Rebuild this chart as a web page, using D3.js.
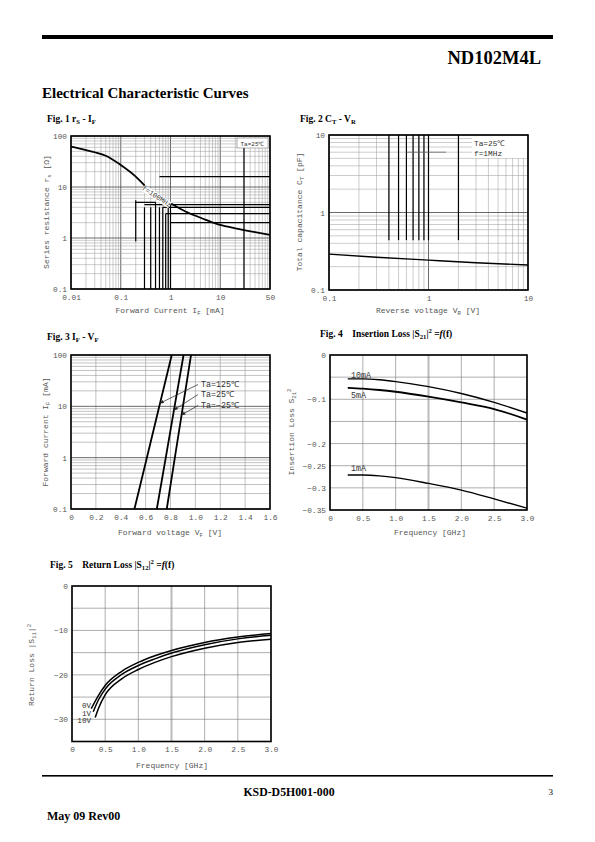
<!DOCTYPE html>
<html><head><meta charset="utf-8">
<script src="https://cdn.jsdelivr.net/npm/d3@7"></script>
<style>body{margin:0;background:#fff}svg{display:block}text{white-space:pre}</style>
</head><body>
<svg id="page" width="595" height="842"></svg>
<script>
// ---------------- DATA ----------------
// Fig 1  rs - IF
const fig1Current = [0.01,0.02,0.03,0.05,0.1,0.2,0.3,0.5,1,2,5,10,20,50,100];
const fig1Rs      = [62,53,48,41,27,16,10.8,7.2,4.8,3.3,2.3,1.8,1.55,1.3,1.15];
const fig1XTicks  = [0.01,0.1,1,10,100];
const fig1XLabels = ["0.01","0.1","1","10","50"];
const fig1YTicks  = [0.1,1,10,100];
const fig1YLabels = ["0.1","1","10","100"];
// darker (over-printed) grid segments seen on the scan: [gridValue, from, to]
const fig1DarkV   = [[0.2,5.5,0.85],[0.3,4,0.1],[0.4,4,0.1],[0.5,5,0.1],[0.6,4,0.1],[0.7,4,0.1],[0.8,3,0.1],[0.9,4,0.1],[1,4.5,0.1],[30,60,0.1]];
const fig1DarkH   = [[16,0.6,100],[5,0.2,0.5],[4.5,0.3,100],[4,0.7,100],[3,0.8,100],[2,1,100]];
// Fig 2  CT - VR
const fig2Voltage = [0.1,0.3,1,3,10];
const fig2Ct      = [0.29,0.265,0.243,0.225,0.21];
const fig2XTicks  = [0.1,1,10];
const fig2XLabels = ["0.1","1","10"];
const fig2YTicks  = [0.1,1,10];
const fig2YLabels = ["0.1","1","10"];
const fig2DarkV   = [[0.4,10,0.44],[0.5,10,0.44],[0.6,10,0.44],[0.7,10,0.44],[0.8,10,0.44],[0.9,10,0.44],[1,10,0.44],[2,10,0.44]];
const fig2DarkH   = [[6,0.6,1.5]];
// Fig 3  IF - VF
const fig3Current = [0.1,1,10,100];
const fig3Vf125   = [0.51,0.61,0.71,0.81];
const fig3Vf25    = [0.69,0.762,0.833,0.905];
const fig3VfM25   = [0.77,0.835,0.90,0.965];
const fig3Series  = ["Ta=125℃","Ta=25℃","Ta=−25℃"];
const fig3ArrowAt = [11.5,8.5,6.8];   // current (mA) where each label arrow points
const fig3XTicks  = [0,0.2,0.4,0.6,0.8,1.0,1.2,1.4,1.6];
const fig3XLabels = ["0","0.2","0.4","0.6","0.8","1.0","1.2","1.4","1.6"];
const fig3YTicks  = [0.1,1,10,100];
const fig3YLabels = ["0.1","1","10","100"];
// Fig 4  Insertion loss
const fig4Freq    = [0.27,0.5,0.75,1.0,1.5,2.0,2.5,3.0];
const fig4Il10    = [-0.054,-0.054,-0.056,-0.060,-0.0715,-0.087,-0.107,-0.131];
const fig4Il5     = [-0.074,-0.076,-0.079,-0.083,-0.094,-0.107,-0.122,-0.146];
const fig4Il1     = [-0.271,-0.271,-0.273,-0.277,-0.290,-0.305,-0.325,-0.346];
const fig4Series  = ["10mA","5mA","1mA"];
const fig4XTicks  = [0,0.5,1.0,1.5,2.0,2.5,3.0];
const fig4XLabels = ["0","0.5","1.0","1.5","2.0","2.5","3.0"];
const fig4YTicks  = [0,-0.1,-0.2,-0.25,-0.3,-0.35];
const fig4YLabels = ["0","−0.1","−0.2","−0.25","−0.3","−0.35"];
const fig4YGrid   = [0,-0.05,-0.1,-0.15,-0.2,-0.25,-0.3,-0.35];
// Fig 5  Return loss
const fig5Freq0   = [0.29,0.4,0.5,0.75,1.0,1.25,1.5,2.0,2.5,3.0];
const fig5Rl0     = [-27.6,-24.6,-22.4,-19.2,-17.2,-15.7,-14.5,-12.7,-11.5,-10.7];
const fig5Freq1   = [0.32,0.4,0.5,0.75,1.0,1.25,1.5,2.0,2.5,3.0];
const fig5Rl1     = [-28.3,-25.6,-23.2,-19.9,-17.9,-16.4,-15.1,-13.2,-11.9,-11.1];
const fig5Freq10  = [0.35,0.4,0.5,0.75,1.0,1.25,1.5,2.0,2.5,3.0];
const fig5Rl10    = [-29.6,-27.5,-24.5,-20.9,-18.8,-17.2,-15.9,-14.0,-12.7,-12.0];
const fig5Series  = ["0V","1V","10V"];
const fig5XTicks  = [0,0.5,1.0,1.5,2.0,2.5,3.0];
const fig5XLabels = ["0","0.5","1.0","1.5","2.0","2.5","3.0"];
const fig5YTicks  = [0,-10,-20,-30];
const fig5YLabels = ["0","−10","−20","−30"];
const fig5YGrid   = [0,-5,-10,-15,-20,-25,-30,-35];

// ---------------- HELPERS ----------------
const svg = d3.select("#page");
const SERIF = "'Liberation Serif','Times New Roman',serif";
const MONO = "'Liberation Mono','DejaVu Sans Mono',monospace";
const INK = "#555";

function logGrid(lo, hi){
  const out=[];
  for(let e=Math.floor(Math.log10(lo)+1e-9); e<Math.round(Math.log10(hi)); e++){
    for(let k=1;k<10;k++){ out.push(+(k*Math.pow(10,e)).toPrecision(6)); }
  }
  out.push(hi);
  return out.filter(v=>v>=lo*0.999 && v<=hi*1.001);
}
const isDecade = v => Math.abs(Math.log10(v)-Math.round(Math.log10(v)))<1e-6;

function rich(sel, parts, size){
  let shift = 0;
  parts.forEach(([t,k])=>{
    const ts = sel.append("tspan").text(t);
    let want = 0;
    if(k==="sub"){ ts.attr("font-size", size*0.7); want = size*0.25; }
    else if(k==="sup"){ ts.attr("font-size", size*0.7); want = -size*0.4; }
    else if(k==="it"){ ts.attr("font-style","italic"); }
    if(want!==shift) ts.attr("dy", want-shift);
    shift = want;
  });
}

function panel(p){
  const g = svg.append("g");
  const [x0,x1] = p.x.range(), [y0,y1] = p.y.range();
  g.selectAll(null).data(p.xGrid).join("line")
    .attr("x1",d=>p.x(d)).attr("x2",d=>p.x(d)).attr("y1",y1).attr("y2",y0)
    .attr("stroke",d=>p.xGridColor(d)).attr("stroke-width",d=>p.xGridWidth(d));
  g.selectAll(null).data(p.yGrid).join("line")
    .attr("y1",d=>p.y(d)).attr("y2",d=>p.y(d)).attr("x1",x0).attr("x2",x1)
    .attr("stroke",d=>p.yGridColor(d)).attr("stroke-width",d=>p.yGridWidth(d));
  if(p.darkV) g.selectAll(null).data(p.darkV).join("line")
    .attr("x1",d=>p.x(d[0])).attr("x2",d=>p.x(d[0])).attr("y1",d=>p.y(d[1])).attr("y2",d=>p.y(d[2]))
    .attr("stroke","#000").attr("stroke-width",1.2);
  if(p.darkH) g.selectAll(null).data(p.darkH).join("line")
    .attr("y1",d=>p.y(d[0])).attr("y2",d=>p.y(d[0])).attr("x1",d=>p.x(d[1])).attr("x2",d=>p.x(d[2]))
    .attr("stroke",p.darkHColor||"#000").attr("stroke-width",p.darkHWidth||1.2);
  const ax = g.append("g").attr("transform",`translate(0,${y0})`)
    .call(d3.axisBottom(p.x).tickValues(p.xTicks).tickFormat((d,i)=>p.xLabels[i]).tickSize(0).tickPadding(5));
  const ay = g.append("g").attr("transform",`translate(${x0},0)`)
    .call(d3.axisLeft(p.y).tickValues(p.yTicks).tickFormat((d,i)=>p.yLabels[i]).tickSize(0).tickPadding(4));
  [ax,ay].forEach(a=>{ a.select(".domain").remove();
    a.attr("font-family",MONO).attr("font-size",7.8);
    a.selectAll("text").attr("fill",INK); });
  p.g = g;
  return g;
}
function border(p){
  const [x0,x1] = p.x.range(), [y0,y1] = p.y.range();
  p.g.append("rect").attr("x",x0).attr("y",y1).attr("width",x1-x0).attr("height",y0-y1)
    .attr("fill","none").attr("stroke","#000").attr("stroke-width",1.6);
}
function curve(p, xs, ys, w, curveType){
  const line = d3.line().x(d=>p.x(d[0])).y(d=>p.y(d[1])).curve(curveType||d3.curveMonotoneX);
  p.g.append("path").datum(xs.map((v,i)=>[v,ys[i]])).attr("d",line)
    .attr("fill","none").attr("stroke","#000").attr("stroke-width",w||1.6).attr("stroke-linejoin","round");
}
function xTitle(cx, y, parts){
  const t = svg.append("text").attr("x",cx).attr("y",y).attr("text-anchor","middle")
    .attr("font-family",MONO).attr("font-size",8).attr("fill",INK);
  rich(t, parts, 8);
}
function yTitle(cx, cy, parts){
  const t = svg.append("text").attr("transform",`translate(${cx},${cy}) rotate(-90)`).attr("text-anchor","middle")
    .attr("font-family",MONO).attr("font-size",8).attr("fill",INK);
  rich(t, parts, 8);
}
function figTitle(x, y, parts){
  const t = svg.append("text").attr("x",x).attr("y",y).attr("font-family",SERIF)
    .attr("font-weight","bold").attr("font-size",9.5).attr("fill","#000").attr("xml:space","preserve");
  rich(t, parts, 9.5);
}

// ---------------- PAGE FRAME ----------------
svg.append("rect").attr("x",42).attr("y",35).attr("width",511).attr("height",4).attr("fill","#000");
svg.append("text").attr("x",541).attr("y",64).attr("text-anchor","end").attr("font-family",SERIF)
  .attr("font-weight","bold").attr("font-size",18.5).text("ND102M4L");
svg.append("text").attr("x",42).attr("y",98).attr("font-family",SERIF)
  .attr("font-weight","bold").attr("font-size",15).text("Electrical Characteristic Curves");
svg.append("rect").attr("x",42).attr("y",775).attr("width",511).attr("height",1.6).attr("fill","#000");
svg.append("text").attr("x",289).attr("y",796).attr("text-anchor","middle").attr("font-family",SERIF)
  .attr("font-weight","bold").attr("font-size",11.8).text("KSD-D5H001-000");
svg.append("text").attr("x",553).attr("y",795).attr("text-anchor","end").attr("font-family",SERIF)
  .attr("font-size",9).text("3");
svg.append("text").attr("x",47).attr("y",820).attr("font-family",SERIF)
  .attr("font-weight","bold").attr("font-size",12).text("May 09 Rev00");

// ---------------- FIG 1 ----------------
const p1 = {
  x: d3.scaleLog().domain([0.01,100]).range([71,270]),
  y: d3.scaleLog().domain([0.1,100]).range([289,136]),
  xGrid: logGrid(0.01,100), yGrid: logGrid(0.1,100),
  xGridColor: d=>isDecade(d)?"#444":"#999", xGridWidth: d=>isDecade(d)?0.8:0.5,
  yGridColor: d=>isDecade(d)?"#444":"#999", yGridWidth: d=>isDecade(d)?0.8:0.5,
  darkV: fig1DarkV, darkH: fig1DarkH,
  xTicks: fig1XTicks, xLabels: fig1XLabels, yTicks: fig1YTicks, yLabels: fig1YLabels
};
panel(p1);
curve(p1, fig1Current, fig1Rs, 1.8, d3.curveMonotoneX);
p1.g.append("rect").attr("x",237).attr("y",138).attr("width",31).attr("height",10).attr("fill","#fff").attr("stroke","#666").attr("stroke-width",0.5);
p1.g.append("text").attr("x",252.5).attr("y",145.5).attr("text-anchor","middle").attr("font-family",MONO)
  .attr("font-size",6).attr("fill","#333").text("Ta=25℃");
const f1lab = p1.g.append("g").attr("transform",`translate(${p1.x(0.5)},${p1.y(7.2)+4}) rotate(33)`);
f1lab.append("rect").attr("x",-16).attr("y",-5.5).attr("width",32).attr("height",7).attr("fill","#fff");
f1lab.append("text").attr("text-anchor","middle").attr("font-family",MONO).attr("font-size",7)
  .attr("fill","#333").text("f=100MHz");
border(p1);
figTitle(47,122,[["Fig. 1 r","n"],["S","sub"],[" - I","n"],["F","sub"]]);
xTitle(170,313,[["Forward Current I","n"],["F","sub"],[" [mA]","n"]]);
yTitle(49,212,[["Series resistance r","n"],["s","sub"],[" [Ω]","n"]]);

// ---------------- FIG 2 ----------------
const p2 = {
  x: d3.scaleLog().domain([0.1,10]).range([329,528]),
  y: d3.scaleLog().domain([0.1,10]).range([290,135]),
  xGrid: logGrid(0.1,10), yGrid: logGrid(0.1,10),
  xGridColor: d=>isDecade(d)?"#444":"#999", xGridWidth: d=>isDecade(d)?0.8:0.5,
  yGridColor: d=>isDecade(d)?"#444":"#999", yGridWidth: d=>isDecade(d)?0.8:0.5,
  darkV: fig2DarkV, darkH: fig2DarkH, darkHColor: "#666", darkHWidth: 0.8,
  xTicks: fig2XTicks, xLabels: fig2XLabels, yTicks: fig2YTicks, yLabels: fig2YLabels
};
panel(p2);
p2.g.append("rect").attr("x",472).attr("y",136).attr("width",55).attr("height",22).attr("fill","#fff");
p2.g.append("text").attr("x",474).attr("y",146).attr("font-family",MONO).attr("font-size",7.8).attr("fill","#333").text("Ta=25℃");
p2.g.append("text").attr("x",474).attr("y",156).attr("font-family",MONO).attr("font-size",7.8).attr("fill","#333").text("f=1MHz");
curve(p2, fig2Voltage, fig2Ct, 1.4);
border(p2);
figTitle(300,122,[["Fig. 2 C","n"],["T","sub"],[" - V","n"],["R","sub"]]);
xTitle(428,313,[["Reverse voltage V","n"],["R","sub"],[" [V]","n"]]);
yTitle(302,212,[["Total capacitance C","n"],["T","sub"],[" [pF]","n"]]);

// ---------------- FIG 3 ----------------
const p3 = {
  x: d3.scaleLinear().domain([0,1.6]).range([71,270]),
  y: d3.scaleLog().domain([0.1,100]).range([509,355]),
  xGrid: fig3XTicks, yGrid: logGrid(0.1,100),
  xGridColor: d=>"#999", xGridWidth: d=>0.6,
  yGridColor: d=>isDecade(d)?"#444":"#999", yGridWidth: d=>isDecade(d)?0.8:0.6,
  xTicks: fig3XTicks, xLabels: fig3XLabels, yTicks: fig3YTicks, yLabels: fig3YLabels
};
panel(p3);
const f3curves = [fig3Vf125, fig3Vf25, fig3VfM25];
f3curves.forEach(v=>curve(p3, v, fig3Current, 1.8, d3.curveLinear));
svg.append("defs").append("marker").attr("id","arr").attr("viewBox","0 0 10 10").attr("refX",9).attr("refY",5)
  .attr("markerWidth",6).attr("markerHeight",6).attr("orient","auto")
  .append("path").attr("d","M0,1 L10,5 L0,9 z").attr("fill","#222");
const labBase = [387,397,408];
f3curves.forEach((vs,i)=>{
  const logs = fig3Current.map(Math.log10);
  const vAt = d3.scaleLinear().domain(logs).range(vs)(Math.log10(fig3ArrowAt[i]));
  const tx = p3.x(vAt), ty = p3.y(fig3ArrowAt[i]);
  p3.g.append("line").attr("x1",198).attr("y1",labBase[i]-2.5).attr("x2",tx).attr("y2",ty)
    .attr("stroke","#222").attr("stroke-width",0.7).attr("marker-end","url(#arr)");
  p3.g.append("text").attr("x",201).attr("y",labBase[i]).attr("font-family",MONO).attr("font-size",8.3)
    .attr("fill","#333").text(fig3Series[i]);
});
border(p3);
figTitle(47,340,[["Fig. 3 I","n"],["F","sub"],[" - V","n"],["F","sub"]]);
xTitle(170,535,[["Forward voltage V","n"],["F","sub"],[" [V]","n"]]);
yTitle(48,432,[["Forward current I","n"],["F","sub"],[" [mA]","n"]]);

// ---------------- FIG 4 ----------------
const p4 = {
  x: d3.scaleLinear().domain([0,3]).range([330,527]),
  y: d3.scaleLinear().domain([-0.35,0]).range([510,355]),
  xGrid: fig4XTicks, yGrid: fig4YGrid,
  xGridColor: d=>d===1.5?"#bbb":"#777", xGridWidth: d=>d===1.5?2:0.6,
  yGridColor: d=>"#777", yGridWidth: d=>0.6,
  xTicks: fig4XTicks, xLabels: fig4XLabels, yTicks: fig4YTicks, yLabels: fig4YLabels
};
panel(p4);
[fig4Il10, fig4Il5, fig4Il1].forEach((v,i)=>curve(p4, fig4Freq, v, i===1?1.8:1.4));
[[378,fig4Series[0]],[398,fig4Series[1]],[471,fig4Series[2]]].forEach(([y,t])=>{
  p4.g.append("text").attr("x",351).attr("y",y).attr("font-family",MONO).attr("font-size",8.3).attr("fill","#333").text(t);
});
border(p4);
figTitle(320,337,[["Fig. 4    Insertion Loss |S","n"],["21","sub"],["|","n"],["2","sup"],[" =","n"],["f","it"],["(f)","n"]]);
xTitle(430,535,[["Frequency [GHz]","n"]]);
yTitle(294,432,[["Insertion Loss S","n"],["21","sub"],["2","sup"]]);

// ---------------- FIG 5 ----------------
const p5 = {
  x: d3.scaleLinear().domain([0,3]).range([72,271]),
  y: d3.scaleLinear().domain([-35,0]).range([741.5,586]),
  xGrid: fig5XTicks, yGrid: fig5YGrid,
  xGridColor: d=>d===1.5?"#bbb":"#777", xGridWidth: d=>d===1.5?2:0.6,
  yGridColor: d=>"#777", yGridWidth: d=>0.6,
  xTicks: fig5XTicks, xLabels: fig5XLabels, yTicks: fig5YTicks, yLabels: fig5YLabels
};
panel(p5);
curve(p5, fig5Freq0, fig5Rl0, 1.5);
curve(p5, fig5Freq1, fig5Rl1, 1.5);
curve(p5, fig5Freq10, fig5Rl10, 1.5);
[[708,fig5Series[0]],[715.5,fig5Series[1]],[723,fig5Series[2]]].forEach(([y,t])=>{
  p5.g.append("text").attr("x",91).attr("y",y).attr("text-anchor","end").attr("font-family",MONO)
    .attr("font-size",7.6).attr("fill","#333").text(t);
});
border(p5);
figTitle(50,568,[["Fig. 5    Return Loss |S","n"],["12","sub"],["|","n"],["2","sup"],[" =","n"],["f","it"],["(f)","n"]]);
xTitle(172,768,[["Frequency [GHz]","n"]]);
yTitle(34,665,[["Return Loss |S","n"],["11","sub"],["|","n"],["2","sup"]]);
</script>
</body></html>
